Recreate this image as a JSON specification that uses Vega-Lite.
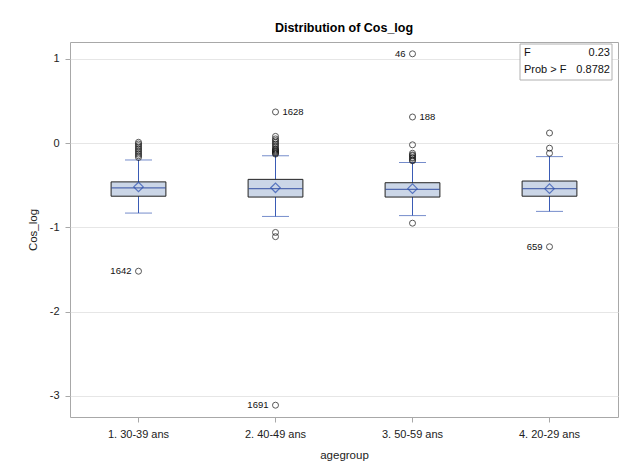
{
  "$schema": "https://vega.github.io/schema/vega-lite/v6.json",
  "autosize": "none",
  "width": 548,
  "height": 375,
  "padding": {"left": 70, "top": 42, "right": 2, "bottom": 56},
  "background": "white",
  "title": {"text": "Distribution of Cos_log", "font": "Liberation Sans", "fontSize": 12.5, "fontWeight": "bold", "color": "#000", "anchor": "middle", "offset": 8},
  "config": {
    "view": {"stroke": "#a8a8a8", "strokeWidth": 1},
    "font": "Liberation Sans",
    "axis": {"labelFont": "Liberation Sans", "titleFont": "Liberation Sans", "labelFontSize": 11, "titleFontSize": 11.5, "titleFontWeight": "normal", "labelColor": "#222", "titleColor": "#222", "tickColor": "#a8a8a8", "domain": false}
  },
  "datasets": {
    "boxes": [
      {"group": "1. 30-39 ans", "q1": -0.63, "q3": -0.46, "median": -0.53, "mean": -0.52, "lo": -0.83, "hi": -0.2},
      {"group": "2. 40-49 ans", "q1": -0.64, "q3": -0.43, "median": -0.54, "mean": -0.53, "lo": -0.87, "hi": -0.15},
      {"group": "3. 50-59 ans", "q1": -0.64, "q3": -0.47, "median": -0.55, "mean": -0.54, "lo": -0.86, "hi": -0.23},
      {"group": "4. 20-29 ans", "q1": -0.63, "q3": -0.45, "median": -0.54, "mean": -0.54, "lo": -0.81, "hi": -0.16}
    ],
    "outliers": [
      {"group": "1. 30-39 ans", "y": 0.01, "label": ""},
      {"group": "1. 30-39 ans", "y": -0.01, "label": ""},
      {"group": "1. 30-39 ans", "y": -0.03, "label": ""},
      {"group": "1. 30-39 ans", "y": -0.05, "label": ""},
      {"group": "1. 30-39 ans", "y": -0.07, "label": ""},
      {"group": "1. 30-39 ans", "y": -0.09, "label": ""},
      {"group": "1. 30-39 ans", "y": -0.11, "label": ""},
      {"group": "1. 30-39 ans", "y": -0.13, "label": ""},
      {"group": "1. 30-39 ans", "y": -0.15, "label": ""},
      {"group": "1. 30-39 ans", "y": -0.17, "label": ""},
      {"group": "1. 30-39 ans", "y": -1.52, "label": "1642"},
      {"group": "2. 40-49 ans", "y": 0.08, "label": ""},
      {"group": "2. 40-49 ans", "y": 0.05, "label": ""},
      {"group": "2. 40-49 ans", "y": 0.03, "label": ""},
      {"group": "2. 40-49 ans", "y": 0.01, "label": ""},
      {"group": "2. 40-49 ans", "y": -0.01, "label": ""},
      {"group": "2. 40-49 ans", "y": -0.03, "label": ""},
      {"group": "2. 40-49 ans", "y": -0.05, "label": ""},
      {"group": "2. 40-49 ans", "y": -0.07, "label": ""},
      {"group": "2. 40-49 ans", "y": -0.08, "label": ""},
      {"group": "2. 40-49 ans", "y": -0.09, "label": ""},
      {"group": "2. 40-49 ans", "y": -0.1, "label": ""},
      {"group": "2. 40-49 ans", "y": -0.11, "label": ""},
      {"group": "2. 40-49 ans", "y": -0.12, "label": ""},
      {"group": "2. 40-49 ans", "y": -0.13, "label": ""},
      {"group": "2. 40-49 ans", "y": 0.37, "label": "1628"},
      {"group": "2. 40-49 ans", "y": -1.06, "label": ""},
      {"group": "2. 40-49 ans", "y": -1.11, "label": ""},
      {"group": "2. 40-49 ans", "y": -3.11, "label": "1691"},
      {"group": "3. 50-59 ans", "y": -0.12, "label": ""},
      {"group": "3. 50-59 ans", "y": -0.14, "label": ""},
      {"group": "3. 50-59 ans", "y": -0.15, "label": ""},
      {"group": "3. 50-59 ans", "y": -0.17, "label": ""},
      {"group": "3. 50-59 ans", "y": -0.18, "label": ""},
      {"group": "3. 50-59 ans", "y": -0.2, "label": ""},
      {"group": "3. 50-59 ans", "y": -0.21, "label": ""},
      {"group": "3. 50-59 ans", "y": -0.02, "label": ""},
      {"group": "3. 50-59 ans", "y": 0.31, "label": "188"},
      {"group": "3. 50-59 ans", "y": 1.06, "label": "46"},
      {"group": "3. 50-59 ans", "y": -0.95, "label": ""},
      {"group": "4. 20-29 ans", "y": -0.12, "label": ""},
      {"group": "4. 20-29 ans", "y": -0.06, "label": ""},
      {"group": "4. 20-29 ans", "y": 0.12, "label": ""},
      {"group": "4. 20-29 ans", "y": -1.23, "label": "659"}
    ]
  },
  "layer": [
    {
      "data": {"name": "boxes"},
      "mark": {"type": "rule", "color": "#3a5bb5", "strokeWidth": 1},
      "encoding": {
        "x": {"field": "group", "type": "nominal", "sort": null,
              "scale": {"type": "band", "paddingInner": 0, "paddingOuter": 0, "domain": ["1. 30-39 ans", "2. 40-49 ans", "3. 50-59 ans", "4. 20-29 ans"]},
              "axis": {"title": "agegroup", "labelAngle": 0, "tickSize": 5, "labelPadding": 6, "titlePadding": 10}},
        "y": {"field": "lo", "type": "quantitative",
              "scale": {"domain": [-3.25, 1.2], "nice": false, "zero": false},
              "axis": {"title": "Cos_log", "values": [1, 0, -1, -2, -3], "labelExpr": "'' + datum.value", "tickSize": 5, "labelPadding": 6, "titlePadding": 11, "grid": true, "gridColor": "#e6e6e6"}},
        "y2": {"field": "hi"}
      }
    },
    {
      "data": {"name": "boxes"},
      "mark": {"type": "tick", "color": "#3a5bb5", "size": 27, "thickness": 1},
      "encoding": {
        "x": {"field": "group", "type": "nominal"},
        "y": {"field": "lo", "type": "quantitative"}
      }
    },
    {
      "data": {"name": "boxes"},
      "mark": {"type": "tick", "color": "#3a5bb5", "size": 27, "thickness": 1},
      "encoding": {
        "x": {"field": "group", "type": "nominal"},
        "y": {"field": "hi", "type": "quantitative"}
      }
    },
    {
      "data": {"name": "boxes"},
      "mark": {"type": "bar", "fill": "#cbd6e7", "stroke": "#222222", "strokeWidth": 1, "width": {"band": 0.4}},
      "encoding": {
        "x": {"field": "group", "type": "nominal"},
        "y": {"field": "q1", "type": "quantitative"},
        "y2": {"field": "q3"}
      }
    },
    {
      "data": {"name": "boxes"},
      "mark": {"type": "tick", "color": "#1f3d99", "size": 54, "thickness": 1.3},
      "encoding": {
        "x": {"field": "group", "type": "nominal"},
        "y": {"field": "median", "type": "quantitative"}
      }
    },
    {
      "data": {"name": "boxes"},
      "mark": {"type": "point", "shape": "diamond", "filled": false, "color": "#2a4fb0", "size": 90, "strokeWidth": 1.2},
      "encoding": {
        "x": {"field": "group", "type": "nominal"},
        "y": {"field": "mean", "type": "quantitative"}
      }
    },
    {
      "data": {"name": "outliers"},
      "mark": {"type": "point", "shape": "circle", "filled": false, "color": "#111", "size": 36, "strokeWidth": 1},
      "encoding": {
        "x": {"field": "group", "type": "nominal"},
        "y": {"field": "y", "type": "quantitative"}
      }
    },
    {
      "data": {"name": "outliers"},
      "transform": [{"filter": {"field": "label", "oneOf": ["1642", "46", "659", "1691"]}}],
      "mark": {"type": "text", "align": "right", "baseline": "middle", "dx": -7, "fontSize": 9.5, "color": "#111"},
      "encoding": {
        "x": {"field": "group", "type": "nominal"},
        "y": {"field": "y", "type": "quantitative"},
        "text": {"field": "label"}
      }
    },
    {
      "data": {"name": "outliers"},
      "transform": [{"filter": {"field": "label", "oneOf": ["1628", "188"]}}],
      "mark": {"type": "text", "align": "left", "baseline": "middle", "dx": 7, "fontSize": 9.5, "color": "#111"},
      "encoding": {
        "x": {"field": "group", "type": "nominal"},
        "y": {"field": "y", "type": "quantitative"},
        "text": {"field": "label"}
      }
    },
    {
      "data": {"values": [{"table": "F"}]},
      "mark": {"type": "bar", "fill": "white", "stroke": "#b0b0b0", "strokeWidth": 1, "width": 92, "xOffset": 16.5},
      "encoding": {
        "x": {"datum": "4. 20-29 ans", "type": "nominal"},
        "y": {"datum": 1.176, "type": "quantitative"},
        "y2": {"datum": 0.749}
      }
    },
    {
      "data": {"values": [{"table": "F"}]},
      "mark": {"type": "text", "align": "left", "baseline": "top", "dx": -25.5, "fontSize": 11, "lineHeight": 17, "color": "#111", "text": ["F", "Prob > F"]},
      "encoding": {
        "x": {"datum": "4. 20-29 ans", "type": "nominal"},
        "y": {"datum": 1.14, "type": "quantitative"}
      }
    },
    {
      "data": {"values": [{"table": "F"}]},
      "mark": {"type": "text", "align": "right", "baseline": "top", "dx": 60.5, "fontSize": 11, "lineHeight": 17, "color": "#111", "text": ["0.23", "0.8782"]},
      "encoding": {
        "x": {"datum": "4. 20-29 ans", "type": "nominal"},
        "y": {"datum": 1.14, "type": "quantitative"}
      }
    }
  ]
}
